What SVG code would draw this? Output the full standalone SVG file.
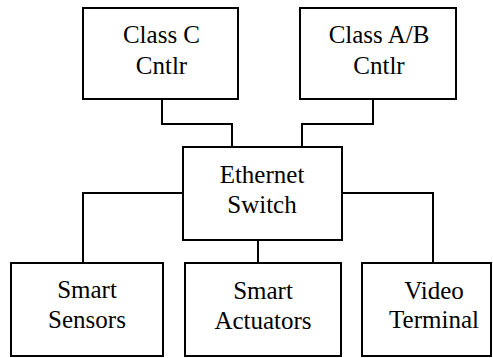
<svg xmlns="http://www.w3.org/2000/svg" width="493" height="358" viewBox="0 0 493 358">
<style>
.box{fill:#fff;stroke:#000;stroke-width:2}
.wire{fill:none;stroke:#000;stroke-width:2}
text{font-family:"Liberation Serif","Times New Roman",serif;font-size:25px;fill:#000;text-anchor:middle}
</style>
<rect width="493" height="358" fill="#fff"/>
<g id="connectors">
<path class="wire" d="M162,99 V124 H232 V147"/>
<path class="wire" d="M373,99 V124 H302 V147"/>
<path class="wire" d="M183,193 H83 V263"/>
<path class="wire" d="M342,193 H433 V263"/>
<path class="wire" d="M258,240 V263"/>
</g>
<g id="classC">
<rect class="box" x="83" y="8" width="155" height="91"/>
<text x="161.5" y="43">Class C</text>
<text x="161.5" y="74">Cntlr</text>
</g>
<g id="classAB">
<rect class="box" x="300" y="8" width="156" height="91"/>
<text x="379" y="43">Class A/B</text>
<text x="379" y="74">Cntlr</text>
</g>
<g id="switch">
<rect class="box" x="183" y="147" width="159" height="93"/>
<text x="262" y="183">Ethernet</text>
<text x="262" y="213">Switch</text>
</g>
<g id="sensors">
<rect class="box" x="11" y="263" width="152" height="93"/>
<text x="87" y="298">Smart</text>
<text x="87" y="328">Sensors</text>
</g>
<g id="actuators">
<rect class="box" x="185" y="263" width="156" height="93"/>
<text x="263" y="299">Smart</text>
<text x="263" y="329">Actuators</text>
</g>
<g id="video">
<rect class="box" x="362" y="263" width="129" height="93"/>
<text x="434" y="299">Video</text>
<text x="434" y="328">Terminal</text>
</g>
</svg>
